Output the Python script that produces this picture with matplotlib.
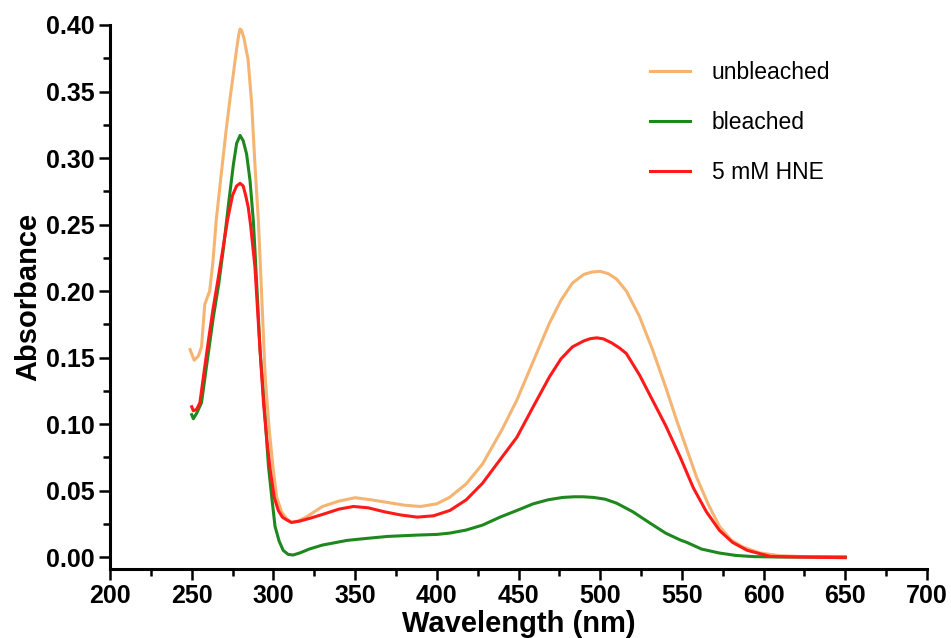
import matplotlib
matplotlib.use("Agg")
import matplotlib.pyplot as plt
from matplotlib.ticker import MultipleLocator, FormatStrFormatter

plt.rcParams['font.family'] = ['Liberation Sans', 'DejaVu Sans']

# ---- data ----
wl_unbleached = [249, 251.5, 254, 256, 258, 261, 263, 265, 268, 271, 273.5, 276, 277.5, 278.7, 279.6,
                 280.5, 282, 284.5, 286.7, 288.7, 290.8, 292.5, 295, 297.5, 300, 302, 305, 308, 311,
                 315, 320, 325, 330, 340, 350, 360, 370, 380, 390, 400, 408, 418, 428, 440, 449, 460,
                 469, 476, 483, 490, 495, 500, 505, 510, 516, 524, 532, 540, 547, 553, 559, 566, 573, 580, 587,
                 598, 610, 625, 650]
abs_unbleached = [0.156, 0.148, 0.151, 0.158, 0.190, 0.200, 0.222, 0.253, 0.287, 0.320, 0.345, 0.368, 0.382, 0.392, 0.397,
                  0.396, 0.390, 0.374, 0.341, 0.295, 0.253, 0.206, 0.135, 0.095, 0.065, 0.045, 0.034, 0.029, 0.026,
                  0.027, 0.030, 0.034, 0.038, 0.042, 0.0446, 0.043, 0.041, 0.039, 0.038, 0.040, 0.045, 0.055, 0.070, 0.096, 0.118, 0.150,
                  0.176, 0.193, 0.206, 0.2125, 0.2143, 0.2148, 0.213, 0.209, 0.200, 0.181, 0.156, 0.128, 0.102, 0.081, 0.060, 0.040, 0.023, 0.013, 0.0077,
                  0.003, 0.001, 0.0003, 0.0]

wl_bleached = [250, 251, 253, 256, 259, 263.2, 266.5, 269.3, 272.5, 275.5, 277.5, 279.6, 281.5, 283.6, 285.7,
               287.7, 288.7, 290.3, 291.8, 294.9, 297, 299, 301, 303.5, 306, 309, 312, 316, 322,
               330, 336.5, 345, 357, 370, 388, 400, 408, 418, 428, 438.7, 449, 459, 468, 477, 484, 489.5,
               496, 503, 510, 520, 530.5, 540, 549, 553, 562, 573, 583, 594, 610, 630, 650]
abs_bleached = [0.107, 0.104, 0.108, 0.116, 0.143, 0.180, 0.205, 0.231, 0.265, 0.295, 0.311, 0.317, 0.313, 0.303, 0.283,
                0.253, 0.231, 0.193, 0.156, 0.105, 0.068, 0.045, 0.023, 0.012, 0.005, 0.002, 0.0015, 0.003, 0.006,
                0.009, 0.0105, 0.0125, 0.014, 0.0155, 0.0165, 0.017, 0.018, 0.0203, 0.024, 0.030, 0.035, 0.040, 0.0430, 0.0448, 0.0453, 0.0453,
                0.0448, 0.0435, 0.0405, 0.034, 0.0255, 0.018, 0.0128, 0.0110, 0.006, 0.003, 0.0012, 0.0003, 0.0, 0.0, 0.0]

wl_hne = [250, 251, 253, 255, 258, 260.5, 263, 266, 269, 272, 275, 277.5, 279.6, 281.5, 283,
          284.6, 286, 288.7, 291.8, 294, 296, 298, 300.5, 303, 305.5, 308, 311, 316, 322, 330, 340, 349, 358,
          368, 378, 388, 398, 408, 418, 428, 438, 449, 459, 469, 476, 483, 490, 494, 498, 502, 507, 512, 516, 524, 532, 540,
          549, 557, 565, 573, 581, 590, 604, 620, 650]
abs_hne = [0.113, 0.110, 0.111, 0.116, 0.143, 0.165, 0.186, 0.208, 0.231, 0.254, 0.272, 0.279, 0.281, 0.279, 0.272,
           0.263, 0.250, 0.218, 0.156, 0.115, 0.088, 0.066, 0.045, 0.035, 0.030, 0.028, 0.026, 0.027, 0.029, 0.032, 0.036, 0.038, 0.037,
           0.034, 0.0316, 0.030, 0.031, 0.035, 0.043, 0.0555, 0.072, 0.090, 0.113, 0.1356, 0.149, 0.158, 0.1625, 0.1642, 0.1648, 0.164, 0.161, 0.157, 0.153, 0.137, 0.118, 0.099,
           0.075, 0.052, 0.034, 0.020, 0.011, 0.005, 0.0005, 0.0, -0.0005]

series_labels = ['unbleached', 'bleached', '5 mM HNE']
series_colors = ['#F5B472', '#1E881E', '#FF1A1A']

x_ticks = [200, 250, 300, 350, 400, 450, 500, 550, 600, 650, 700]
y_ticks = [0.00, 0.05, 0.10, 0.15, 0.20, 0.25, 0.30, 0.35, 0.40]

fig = plt.figure(figsize=(9.51, 6.38), dpi=100)
ax = fig.add_axes([110/951, 1-569/638, (927-110)/951, (569-25)/638])

for wl, ab, lab, col in zip([wl_unbleached, wl_bleached, wl_hne],
                            [abs_unbleached, abs_bleached, abs_hne],
                            series_labels, series_colors):
    ax.plot(wl, ab, color=col, lw=2.2, label=lab, solid_joinstyle='round')

ax.set_xlim(200, 700)
ax.set_ylim(-0.009, 0.40)
ax.set_xticks(x_ticks)
ax.set_yticks(y_ticks)
ax.xaxis.set_minor_locator(MultipleLocator(25))
ax.yaxis.set_minor_locator(MultipleLocator(0.025))
ax.yaxis.set_major_formatter(FormatStrFormatter('%.2f'))

for s in ['top', 'right']:
    ax.spines[s].set_visible(False)
for s in ['left', 'bottom']:
    ax.spines[s].set_linewidth(2.2)

ax.tick_params(which='major', direction='out', length=8, width=1.8, pad=3)
ax.tick_params(which='minor', direction='out', length=5, width=1.8)
for lbl in ax.get_xticklabels() + ax.get_yticklabels():
    lbl.set_fontsize(18)
    lbl.set_fontweight('bold')

ax.set_xlabel('Wavelength (nm)', fontsize=21, fontweight='bold', labelpad=1)
ax.set_ylabel('Absorbance', fontsize=21, fontweight='bold', labelpad=3)

leg = ax.legend(loc='upper left', bbox_to_anchor=(650/951, 1-61/638),
                bbox_transform=fig.transFigure, frameon=False, fontsize=16.5,
                handlelength=1.75, handletextpad=0.95, labelspacing=1.18,
                borderpad=0, borderaxespad=0)

fig.savefig('out.png', dpi=100)
